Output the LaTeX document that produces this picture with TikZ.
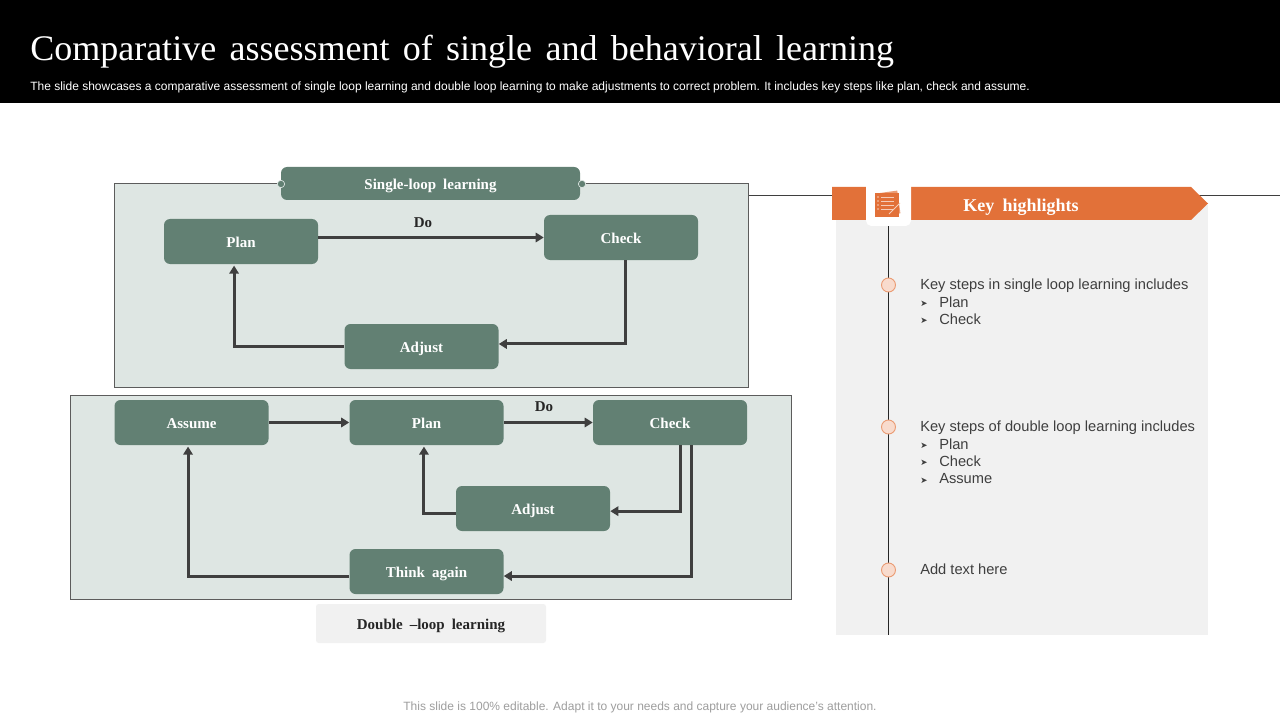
\documentclass[tikz,border=0pt]{standalone}
\usepackage{fontspec}
\setmainfont{Liberation Serif}
\setsansfont{Liberation Sans}
\newfontfamily\arrowfont{DejaVu Sans}
\usetikzlibrary{arrows.meta}
\usetikzlibrary{calc}

\definecolor{boxgreen}{HTML}{628073}
\definecolor{panelgreen}{HTML}{DEE6E3}
\definecolor{lineink}{HTML}{3F3F3F}
\definecolor{keyorange}{HTML}{E27139}
\definecolor{panegrey}{HTML}{F1F1F1}

\newcommand{\wordgap}[1]{\spaceskip #1\relax}
\tikzset{
  labelfont/.style={font=\fontsize{11.25pt}{13pt}\selectfont\bfseries\wordgap{5.3pt},text height=8.6pt,text depth=0pt},
  stepbox/.style={labelfont,draw=none,fill=boxgreen,rounded corners=4.5pt,inner sep=0pt,minimum width=115.5pt,minimum height=33.75pt,text=white},
  loopbox/.style={draw=lineink!85,line width=.6pt,fill=panelgreen,inner sep=0pt,minimum height=153pt},
  flowline/.style={draw=lineink,line width=2.25pt,arrows={-Triangle[length=6pt,width=7pt]}},
  tagdot/.style={circle,draw=panelgreen,fill=boxgreen,line width=.5pt,inner sep=0pt,minimum size=5.5pt},
  marker/.style={circle,draw=keyorange!70,fill=keyorange!25,line width=.7pt,inner sep=0pt,minimum size=10.5pt},
  steptext/.style={anchor=north west,inner sep=0pt,align=left,text=lineink,font=\sffamily\fontsize{11pt}{13.1pt}\selectfont},
}
\newcommand{\keyitem}[1]{\makebox[14.25pt][l]{\raisebox{.6pt}{\arrowfont\fontsize{6.5pt}{7pt}\selectfont ➤}}#1}

\begin{document}
\begin{tikzpicture}[x=.75pt,y=-.75pt]
  \useasboundingbox[fill=white] (0,0) rectangle (1280,720);
  \fill[black] (0,0) rectangle (1280,103);
  \node[anchor=west,inner sep=0pt,text=white,font=\fontsize{27pt}{30pt}\selectfont\wordgap{10pt}] (title) at (30,52) {Comparative assessment of single and behavioral learning};
  \node[anchor=west,inner sep=0pt,text=white,font=\sffamily\fontsize{9pt}{11pt}\selectfont] (subtitle) at (30,87.5) {The slide showcases a comparative assessment of single loop learning and double loop learning to make adjustments to correct problem. It includes key steps like plan, check and assume.};

  % single loop
  \node[loopbox,minimum width=475.5pt] (singlepanel) at (431,285) {};
  \node[stepbox,minimum width=224.25pt,minimum height=24.75pt] (singletag) at (430.5,183.5) {Single-loop learning};
  \node[tagdot] (dotleft) at (281,184) {};
  \node[tagdot] (dotright) at (582,184) {};
  \node[stepbox] (planone) at (241,241.5) {Plan};
  \node[stepbox] (checkone) at (621,237.5) {Check};
  \node[stepbox] (adjustone) at (421.5,346.5) {Adjust};
  \node[labelfont,inner sep=0pt,text=black!85] (doone) at (423,222) {Do};
  \draw[flowline] (planone.east |- checkone.west) -- (checkone.west);
  \draw[flowline] ([xshift=3pt]checkone.south) |- ([yshift=1.9pt]adjustone.east);
  \draw[flowline] (adjustone.west) -| ([xshift=-5.2pt,yshift=-1pt]planone.south);

  % double loop
  \node[loopbox,minimum width=540.75pt] (doublepanel) at (430.5,497) {};
  \node[stepbox] (assumetwo) at (191.5,422.5) {Assume};
  \node[stepbox] (plantwo) at (426.5,422.5) {Plan};
  \node[stepbox] (checktwo) at (670,422.5) {Check};
  \node[stepbox] (adjusttwo) at (533,508.5) {Adjust};
  \node[stepbox] (thinktwo) at (426.5,571.5) {Think again};
  \node[labelfont,inner sep=0pt,text=black!85] (dotwo) at (544,406) {Do};
  \draw[flowline] (assumetwo) -- (plantwo);
  \draw[flowline] (plantwo) -- (checktwo);
  \draw[flowline] ([xshift=7.5pt]checktwo.south) |- ([yshift=-2pt]adjusttwo.east);
  \draw[flowline] ([yshift=-4pt]adjusttwo.west) -| ([xshift=-1.9pt,yshift=-1pt]plantwo.south);
  \draw[flowline] ([xshift=15.75pt]checktwo.south) |- ([yshift=-3.4pt]thinktwo.east);
  \draw[flowline] ([yshift=-3.4pt]thinktwo.west) -| ([xshift=-2.6pt,yshift=-1pt]assumetwo.south);
  \node[labelfont,fill=panegrey,rounded corners=2pt,inner sep=0pt,minimum width=172.5pt,minimum height=29.25pt,text=black!85] (doubletag) at (431,623.5) {Double --loop learning};

  % highlights
  \coordinate (ruleleft) at (749,195);
  \coordinate (ruleright) at (1280,195);
  \fill[panegrey] (836,205) rectangle (1208,635);
  \draw[lineink,line width=.7pt] (ruleright) -- (1190,195);
  \draw[lineink,line width=.7pt] (ruleleft) -- (832,195);
  \fill[keyorange] (832,187) -- (1191,187) -- (1208,203.5) -- (1191,220) -- (832,220) -- cycle;
  \node[inner sep=0pt,text=white,font=\fontsize{13.5pt}{15pt}\selectfont\bfseries\wordgap{6.3pt},text height=9.5pt,text depth=0pt] (keytitle) at (1021,205) {Key highlights};
  \coordinate (railtop) at (888.5,226);
  \coordinate (railend) at (888.5,635);
  \draw[black!85,line width=.8pt] (railtop) -- (railend);
  \node[fill=white,rounded corners=4pt,inner sep=0pt,minimum size=33.75pt] (iconbox) at (888.5,203.5) {};
  \fill[keyorange!70,rotate around={8:(888,204)}] (877,192) rectangle (899,215);
  \fill[keyorange] (875,193) rectangle (899,217);
  \foreach \rowy in {197,201,205,209}
    \draw[keyorange!35,line width=.6pt] (881,\rowy) -- (894,\rowy);
  \foreach \rowy in {197,201,205,209}
    \fill[keyorange!35] (878,\rowy) circle (.8);
  \draw[keyorange!35,line width=.7pt] (889,214) -- (900,203);

  \node[marker] (markerone) at (888.5,285) {};
  \node[marker] (markertwo) at (888.5,427) {};
  \node[marker] (markerthree) at (888.5,570) {};
  \node[steptext] (textone) at (920,278.7) {Key steps in single loop learning includes\\\keyitem{Plan}\\\keyitem{Check}};
  \node[steptext] (texttwo) at (920,420.7) {Key steps of double loop learning includes\\\keyitem{Plan}\\\keyitem{Check}\\\keyitem{Assume}};
  \node[steptext] (textthree) at (920,563.7) {Add text here};

  \node[inner sep=0pt,text=black!38,font=\sffamily\fontsize{9pt}{11pt}\selectfont] (footer) at (640,707) {This slide is 100\% editable. Adapt it to your needs and capture your audience's attention.};
\end{tikzpicture}
\end{document}
